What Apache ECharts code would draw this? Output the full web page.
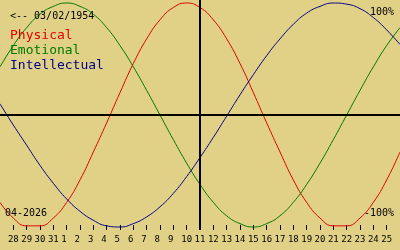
<!DOCTYPE html>
<html><head><meta charset="utf-8">
<script src="https://cdn.jsdelivr.net/npm/echarts@6/dist/echarts.min.js"></script>
<style>html,body{margin:0;padding:0;background:#e1d187}#c{width:400px;height:250px}</style>
</head><body><div id="c"></div>
<script>
// day labels under ticks at positions 1..29 (position 0 = 27 March, position 15 = today)
const tickLabels = ['28','29','30','31','1','2','3','4','5','6','7','8','9','10','11','12','13','14','15','16','17','18','19','20','21','22','23','24','25'];
// values per day position 0..30, -1 .. 1
const physical = [-0.78,-0.92,-0.99,-0.99,-0.92,-0.78,-0.58,-0.33,-0.07,0.20,0.46,0.68,0.85,0.96,1.00,0.96,0.85,0.68,0.46,0.20,-0.07,-0.33,-0.58,-0.78,-0.92,-0.99,-0.99,-0.92,-0.78,-0.58,-0.33];
const emotional = [0.43,0.62,0.78,0.90,0.97,1.00,0.97,0.90,0.78,0.62,0.43,0.22,0.00,-0.22,-0.43,-0.62,-0.78,-0.90,-0.97,-1.00,-0.97,-0.90,-0.78,-0.62,-0.43,-0.22,0.00,0.22,0.43,0.62,0.78];
const intellectual = [0.10,-0.09,-0.27,-0.45,-0.61,-0.75,-0.86,-0.94,-0.99,-1.00,-0.97,-0.91,-0.82,-0.70,-0.55,-0.38,-0.20,-0.01,0.18,0.36,0.53,0.68,0.81,0.91,0.97,1.00,0.99,0.95,0.87,0.76,0.63];
const todayPos = 15;
const birthLabel = '<-- 03/02/1954';
const monthLabel = '04-2026';
const topLabel = '100%';
const bottomLabel = '-100%';

const font = "'DejaVu Sans Mono', 'Liberation Mono', monospace";
const RED = '#e00000', GREEN = '#007800', BLUE = '#000088';
const tickPos = tickLabels.map((_, i) => i + 1);

function line(name, values, color, extra) {
  return Object.assign({
    name, type: 'line', data: values.map((v, i) => [i, v]),
    smooth: true, showSymbol: false, symbol: 'none',
    lineStyle: { color, width: 1 }, itemStyle: { color }, z: 3
  }, extra || {});
}
function txt(text, pos, size, color) {
  return Object.assign({ text, padding: 0, textStyle: { fontFamily: font, fontSize: size, fontWeight: 'normal', color } }, pos);
}

const chart = echarts.init(document.getElementById('c'));
chart.setOption({
  backgroundColor: '#e1d187',
  animation: false,
  grid: { left: 0, right: 0, top: 0, bottom: 20 },
  xAxis: {
    type: 'value', min: 0, max: 30, interval: 1, position: 'bottom',
    splitLine: { show: false }, axisLine: { show: false, onZero: false },
    axisTick: { show: true, inside: true, length: 5, lineStyle: { color: '#000', width: 1 }, customValues: tickPos },
    axisLabel: {
      customValues: tickPos, margin: 5, color: '#000', fontFamily: font, fontSize: 9, hideOverlap: false,
      formatter: v => { const s = tickLabels[v - 1] || ''; return s.length === 1 ? s + ' ' : s; }
    }
  },
  yAxis: { type: 'value', min: -1.027, max: 1.027, show: false },
  title: [
    txt(birthLabel, { left: 10, top: 11 }, 10, '#000'),
    txt('Physical', { left: 10, top: 29 }, 13, RED),
    txt('Emotional', { left: 10, top: 44 }, 13, GREEN),
    txt('Intellectual', { left: 10, top: 59 }, 13, BLUE),
    txt(topLabel, { right: 6, top: 7 }, 10, '#000'),
    txt(bottomLabel, { right: 6, top: 208 }, 10, '#000'),
    txt(monthLabel, { left: 5, top: 208 }, 10, '#000')
  ],
  series: [
    line('Physical', physical, RED, {
      markLine: {
        silent: true, symbol: 'none', label: { show: false },
        lineStyle: { color: '#000', width: 2, type: 'solid' },
        data: [{ yAxis: 0 }, { xAxis: todayPos }]
      }
    }),
    line('Emotional', emotional, GREEN),
    line('Intellectual', intellectual, BLUE)
  ]
});
</script></body></html>
